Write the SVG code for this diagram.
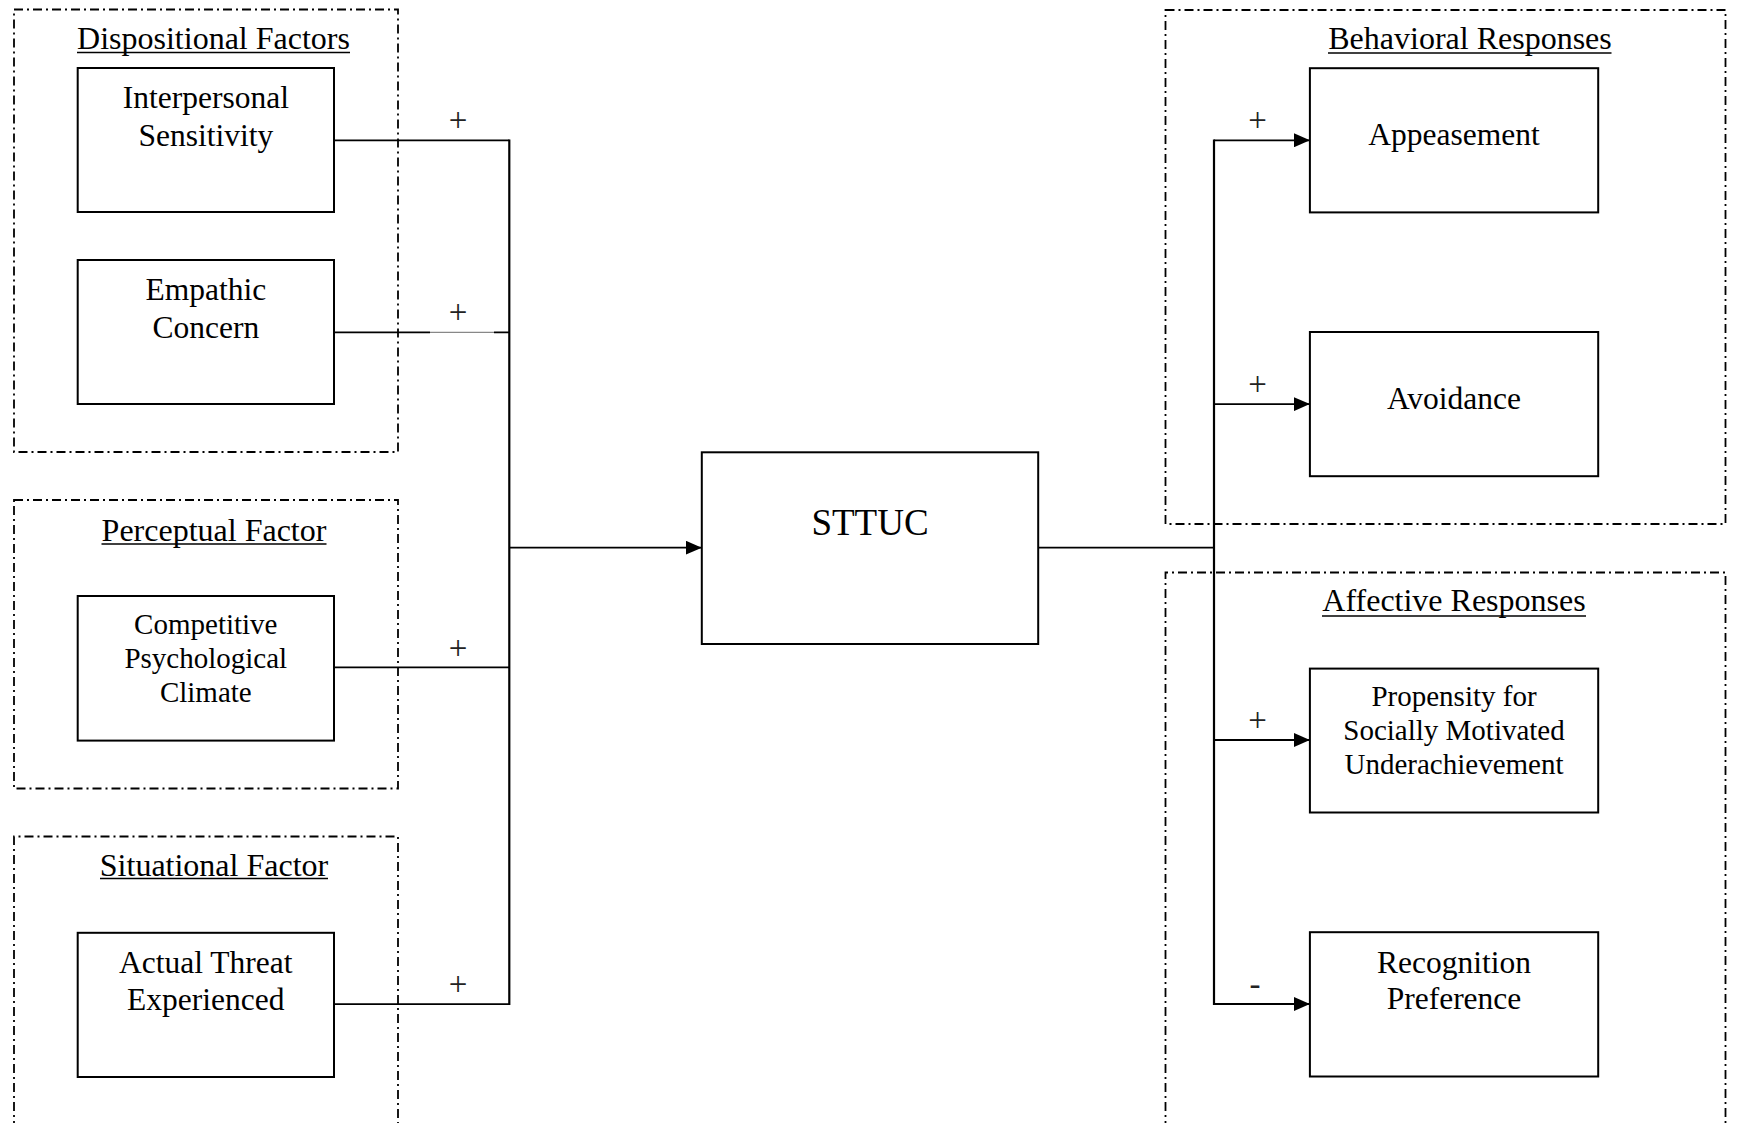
<svg xmlns="http://www.w3.org/2000/svg" width="1737" height="1123" viewBox="0 0 1737 1123">
<style>
.grp{fill:none;stroke:#000;stroke-width:1.8;stroke-dasharray:9 4 2 4}
.box{fill:#fff;stroke:#000;stroke-width:2}
.t{font-family:"Liberation Serif","Times New Roman",serif;fill:#000;text-anchor:middle}
.tl{font-size:32px}
.tb{font-size:31.5px}
.ts{font-size:29px}
.sg{font-size:33px;fill:#222}
.ul{stroke:#000;stroke-width:1.5}
.cn{fill:none;stroke:#000;stroke-width:1.8}
.lt{fill:none;stroke:#888;stroke-width:1.2}
</style>
<defs>
<marker id="ah" viewBox="0 0 16 14" refX="16" refY="7" markerWidth="16" markerHeight="14" markerUnits="userSpaceOnUse" orient="auto">
<path d="M0,0 L16,7 L0,14 Z" fill="#000"/>
</marker>
</defs>
<rect width="1737" height="1123" fill="#fff"/>

<g id="groups">
<g id="dispositional-factors">
<rect class="grp" x="14" y="9.5" width="384" height="442.5"/>
<text class="t tl" x="213.5" y="49">Dispositional Factors</text>
<line class="ul" x1="77" y1="52.5" x2="350" y2="52.5"/>
</g>
<g id="perceptual-factor">
<rect class="grp" x="14" y="500" width="384" height="288.5"/>
<text class="t tl" x="214" y="541">Perceptual Factor</text>
<line class="ul" x1="101.5" y1="544" x2="326.5" y2="544"/>
</g>
<g id="situational-factor">
<path class="grp" d="M14,1130 V836.5 H398 V1130"/>
<text class="t tl" x="214" y="875.5">Situational Factor</text>
<line class="ul" x1="100" y1="878.5" x2="328" y2="878.5"/>
</g>
<g id="behavioral-responses">
<rect class="grp" x="1165.5" y="10" width="560" height="514"/>
<text class="t tl" x="1470" y="49">Behavioral Responses</text>
<line class="ul" x1="1328" y1="53" x2="1611.5" y2="53"/>
</g>
<g id="affective-responses">
<path class="grp" d="M1165.5,1130 V572.5 H1725.5 V1130"/>
<text class="t tl" x="1454" y="611">Affective Responses</text>
<line class="ul" x1="1322" y1="616" x2="1586" y2="616"/>
</g>
</g>

<g id="connectors">
<path class="cn" d="M334,140.3 H509.3"/>
<path class="cn" d="M334,332.3 H430 M494,332.3 H509.3"/>
<path class="lt" d="M430,332.3 H494"/>
<path class="cn" d="M334,667.4 H509.3"/>
<path class="cn" d="M334,1004.2 H509.3"/>
<path class="cn" d="M509.3,139.4 V1005.1" style="stroke-width:2.2"/>
<path class="cn" d="M509.3,547.7 H701.8" marker-end="url(#ah)"/>
<path class="cn" d="M1038.2,547.7 H1214"/>
<path class="cn" d="M1214,139.4 V1004.9" style="stroke-width:2.2"/>
<path class="cn" d="M1214,140.3 H1309.9" marker-end="url(#ah)"/>
<path class="cn" d="M1214,404.1 H1309.9" marker-end="url(#ah)"/>
<path class="cn" d="M1214,740 H1309.9" marker-end="url(#ah)"/>
<path class="cn" d="M1214,1004 H1309.9" marker-end="url(#ah)"/>
<text class="t sg" x="458" y="131">+</text>
<text class="t sg" x="458" y="323">+</text>
<text class="t sg" x="458" y="658.5">+</text>
<text class="t sg" x="458" y="995">+</text>
<text class="t sg" x="1257.5" y="131">+</text>
<text class="t sg" x="1257.5" y="395">+</text>
<text class="t sg" x="1257.5" y="731">+</text>
<text class="t sg" x="1255" y="995">-</text>
</g>

<g id="interpersonal-sensitivity">
<rect class="box" x="77.7" y="68" width="256.3" height="144"/>
<text class="t tb" x="205.8" y="108">Interpersonal</text>
<text class="t tb" x="205.8" y="146">Sensitivity</text>
</g>
<g id="empathic-concern">
<rect class="box" x="77.7" y="260" width="256.3" height="144"/>
<text class="t tb" x="205.8" y="300">Empathic</text>
<text class="t tb" x="205.8" y="337.5">Concern</text>
</g>
<g id="competitive-psychological-climate">
<rect class="box" x="77.7" y="596" width="256.3" height="144.6"/>
<text class="t ts" x="205.8" y="634">Competitive</text>
<text class="t ts" x="205.8" y="667.5">Psychological</text>
<text class="t ts" x="205.8" y="701.5">Climate</text>
</g>
<g id="actual-threat-experienced">
<rect class="box" x="77.7" y="932.8" width="256.3" height="144.2"/>
<text class="t tb" x="205.8" y="972.5">Actual Threat</text>
<text class="t tb" x="205.8" y="1009.5">Experienced</text>
</g>
<g id="sttuc">
<rect class="box" x="701.8" y="452.3" width="336.4" height="191.7"/>
<text class="t" style="font-size:37px" x="870" y="535">STTUC</text>
</g>
<g id="appeasement">
<rect class="box" x="1309.9" y="68.2" width="288.3" height="144.2"/>
<text class="t tb" x="1454" y="144.6">Appeasement</text>
</g>
<g id="avoidance">
<rect class="box" x="1309.9" y="332" width="288.3" height="144.2"/>
<text class="t tb" x="1454" y="408.8">Avoidance</text>
</g>
<g id="propensity-smu">
<rect class="box" x="1309.9" y="668.6" width="288.3" height="143.9"/>
<text class="t ts" x="1454" y="705.5">Propensity for</text>
<text class="t ts" x="1454" y="739.7">Socially Motivated</text>
<text class="t ts" x="1454" y="773.5">Underachievement</text>
</g>
<g id="recognition-preference">
<rect class="box" x="1309.9" y="932.2" width="288.3" height="144.3"/>
<text class="t tb" x="1454" y="973">Recognition</text>
<text class="t tb" x="1454" y="1009.2">Preference</text>
</g>
</svg>
